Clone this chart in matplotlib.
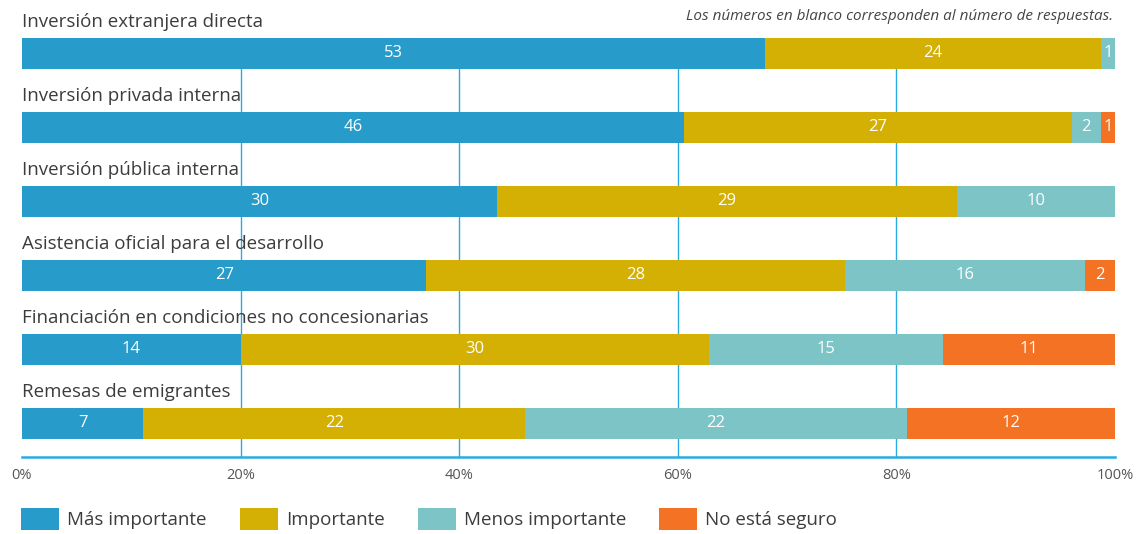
import numpy as np
import matplotlib.pyplot as plt
from matplotlib.patches import Patch

categories = [
    "Inversión extranjera directa",
    "Inversión privada interna",
    "Inversión pública interna",
    "Asistencia oficial para el desarrollo",
    "Financiación en condiciones no concesionarias",
    "Remesas de emigrantes",
]
series = ["Más importante", "Importante", "Menos importante", "No está seguro"]
mas_importante = [53, 46, 30, 27, 14, 7]
importante = [24, 27, 29, 28, 30, 22]
menos_importante = [1, 2, 10, 16, 15, 22]
no_seguro = [0, 1, 0, 2, 11, 12]
ticks = [0, 20, 40, 60, 80, 100]
note = "Los números en blanco corresponden al número de respuestas."

colors = ["#279bc9", "#d4b004", "#7cc4c6", "#f37224"]
grid_c = "#29abe2"
txt_c = "#3c3c3c"
plt.rcParams["font.family"] = ["Open Sans", "DejaVu Sans"]

counts = np.array([mas_importante, importante, menos_importante, no_seguro], dtype=float)
pct = counts / counts.sum(axis=0) * 100

fig = plt.figure(figsize=(11.38, 5.34), dpi=100)
W, H = 1138, 534
ax = fig.add_axes([22 / W, 1 - 457 / H, 1093 / W, (457 - 38) / H])

y = np.arange(len(categories))
left = np.zeros(len(categories))
for k in range(len(series)):
    ax.barh(y, pct[k], left=left, height=0.42, color=colors[k], zorder=2)
    for i in range(len(categories)):
        if counts[k, i] > 0:
            ax.text(left[i] + pct[k, i] / 2, y[i], f"{int(counts[k, i])}",
                    color="white", ha="center", va="center", fontsize=12, zorder=3)
    left += pct[k]

for i, c in enumerate(categories):
    ax.text(0, y[i] - 0.42, c, ha="left", va="center", fontsize=13.5,
            color=txt_c, clip_on=False)

for t in ticks[1:-1]:
    ax.axvline(t, color=grid_c, lw=1, zorder=1)

ax.set_xlim(0, 100)
ax.set_ylim(5 + 34 / 74, -15.5 / 74)
ax.set_yticks([])
ax.set_xticks(ticks)
ax.set_xticklabels([f"{t}%" for t in ticks], fontsize=10.5, color="#555555")
ax.tick_params(axis="x", length=0, pad=8)
for s in ["top", "left", "right"]:
    ax.spines[s].set_visible(False)
ax.spines["bottom"].set_color(grid_c)
ax.spines["bottom"].set_linewidth(1.8)

fig.text(1113 / W, 1 - 17 / H, note, ha="right", va="center", fontsize=11,
         style="italic", color="#444444")

handles = [Patch(facecolor=c, edgecolor="none") for c in colors]
fig.legend(handles, series, loc="lower left", bbox_to_anchor=(21 / W, 4 / H),
           ncol=4, frameon=False, fontsize=13.5, handlelength=2.03, handleheight=1.44,
           handletextpad=0.43, columnspacing=1.76, borderpad=0, borderaxespad=0,
           labelcolor=txt_c)

fig.savefig("out.png", dpi=100)
